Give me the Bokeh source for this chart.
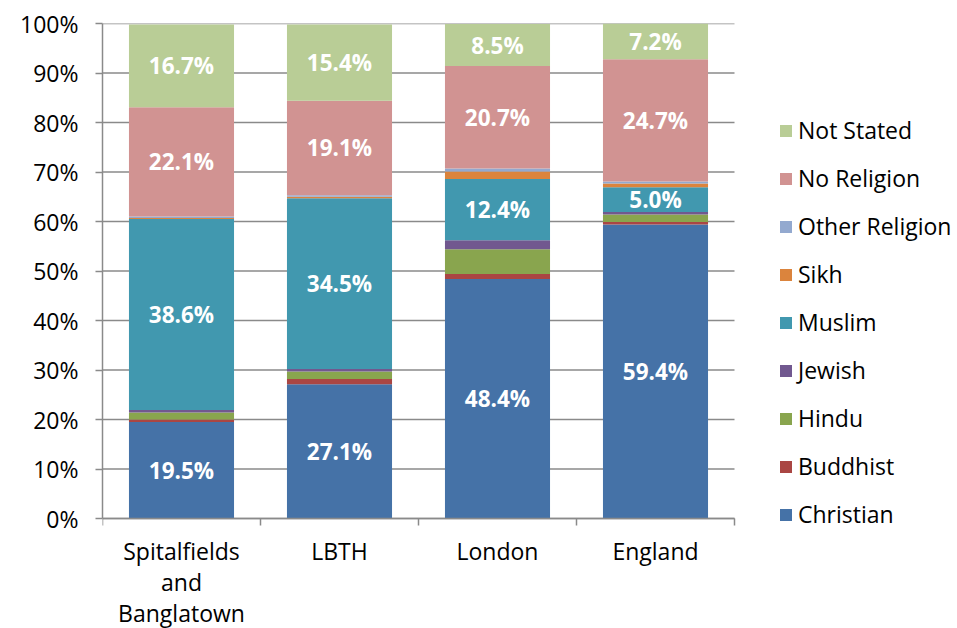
from bokeh.plotting import figure
from bokeh.models import (ColumnDataSource, FixedTicker, PrintfTickFormatter,
                          Legend, LegendItem, Range1d)
from bokeh.core.properties import value
from bokeh.embed import file_html
from bokeh.resources import INLINE

areas = ["Spitalfields\nand\nBanglatown", "LBTH", "London", "England"]
religions = ["Christian", "Buddhist", "Hindu", "Jewish", "Muslim", "Sikh",
             "Other Religion", "No Religion", "Not Stated"]
christian = [19.5, 27.1, 48.4, 59.4]
buddhist = [0.5, 1.1, 1.0, 0.5]
hindu = [1.4, 1.5, 5.0, 1.5]
jewish = [0.5, 0.5, 1.8, 0.5]
muslim = [38.6, 34.5, 12.4, 5.0]
sikh = [0.2, 0.3, 1.5, 0.8]
other_religion = [0.3, 0.3, 0.6, 0.4]
no_religion = [22.1, 19.1, 20.7, 24.7]
not_stated = [16.7, 15.4, 8.5, 7.2]
colors = ["#4572A7", "#AA4643", "#89A54E", "#71588F", "#4198AF", "#DB843D",
          "#93A9CF", "#D19392", "#B9CD96"]
labelled = ["Christian", "Muslim", "No Religion", "Not Stated"]
y_ticks = [0, 10, 20, 30, 40, 50, 60, 70, 80, 90, 100]

series = [christian, buddhist, hindu, jewish, muslim, sikh, other_religion,
          no_religion, not_stated]
n = len(areas)
xs = [i + 1 for i in range(n)]
data = {"x": xs}
for name, vals in zip(religions, series):
    data[name] = vals
src = ColumnDataSource(data)

FONT = "Open Sans"
GRAY = "#8a8a8a"

W, H = 957, 628
LEFT, TOP = 102, 23
PLOT_W, PLOT_H = 632, 495          # pixel size of the bar area
frame_w, frame_h = W - LEFT, H - TOP
x_range = Range1d(0.5, 0.5 + n * frame_w / PLOT_W)
y_range = Range1d(-100 * (frame_h - PLOT_H) / PLOT_H, 100)

p = figure(width=W, height=H, output_backend="svg", toolbar_location=None,
           x_range=x_range, y_range=y_range,
           min_border_left=LEFT, min_border_right=0, min_border_top=TOP,
           min_border_bottom=0)
p.outline_line_color = None
p.background_fill_color = "white"
p.border_fill_color = "white"

# horizontal grid lines limited to the bar area
p.segment(x0=[0.5] * len(y_ticks), x1=[n + 0.5] * len(y_ticks), y0=y_ticks,
          y1=y_ticks, line_color=GRAY, line_width=1.5)

renderers = p.vbar_stack(religions, x="x", width=0.665, color=colors,
                         line_color=None, source=src)

# data labels
lx, ly, lt = [], [], []
for i in range(n):
    cum = 0.0
    for name, vals in zip(religions, series):
        v = vals[i]
        if name in labelled:
            lx.append(xs[i])
            ly.append(cum + v / 2)
            lt.append(f"{v:.1f}%")
        cum += v
lsrc = ColumnDataSource(dict(x=lx, y=ly, t=lt))
p.text(x="x", y="y", text="t", source=lsrc, text_align="center",
       text_baseline="middle", text_color="white", text_font=value(FONT),
       text_font_size="22.5px", text_font_style="bold")

# y axis
p.yaxis.bounds = (0, 100)
p.yaxis.ticker = FixedTicker(ticks=y_ticks)
p.yaxis.formatter = PrintfTickFormatter(format="%d%%")
p.yaxis.major_tick_out = 7
p.yaxis.major_tick_in = 0
p.yaxis.minor_tick_line_color = None
p.yaxis.axis_line_color = GRAY
p.yaxis.axis_line_width = 1.5
p.yaxis.major_tick_line_color = GRAY
p.yaxis.major_tick_line_width = 1.5
p.yaxis.major_label_standoff = 17
p.yaxis.major_label_text_font = FONT
p.yaxis.major_label_text_font_size = "23px"
p.yaxis.major_label_text_color = "black"

# x axis (drawn at y = 0 inside the frame)
p.xaxis.fixed_location = 0
p.xaxis.bounds = (0.5, n + 0.5)
p.xaxis.ticker = FixedTicker(ticks=xs, minor_ticks=[i + 0.5 for i in range(n + 1)])
p.xaxis.major_label_overrides = {x: a for x, a in zip(xs, areas)}
p.xaxis.major_tick_out = 0
p.xaxis.major_tick_in = 0
p.xaxis.minor_tick_out = 7
p.xaxis.minor_tick_in = 0
p.xaxis.minor_tick_line_color = GRAY
p.xaxis.minor_tick_line_width = 1.5
p.xaxis.axis_line_color = GRAY
p.xaxis.axis_line_width = 1.5
p.xaxis.major_label_standoff = 9
p.xaxis.major_label_text_font = FONT
p.xaxis.major_label_text_font_size = "23px"
p.xaxis.major_label_text_color = "black"
p.xaxis.major_label_text_line_height = 0.97

p.xgrid.grid_line_color = None
p.ygrid.grid_line_color = None

items = [LegendItem(label=name, renderers=[r]) for name, r in zip(religions, renderers)]
items.reverse()
legend = Legend(items=items, location=(676, 98), glyph_width=15, glyph_height=15,
                label_standoff=5, spacing=16, padding=0, margin=0,
                border_line_color=None, background_fill_alpha=0,
                label_text_font=FONT, label_text_font_size="23px",
                label_height=32, label_text_color="black")
p.add_layout(legend)

open("out.html", "w").write(file_html(p, INLINE))
